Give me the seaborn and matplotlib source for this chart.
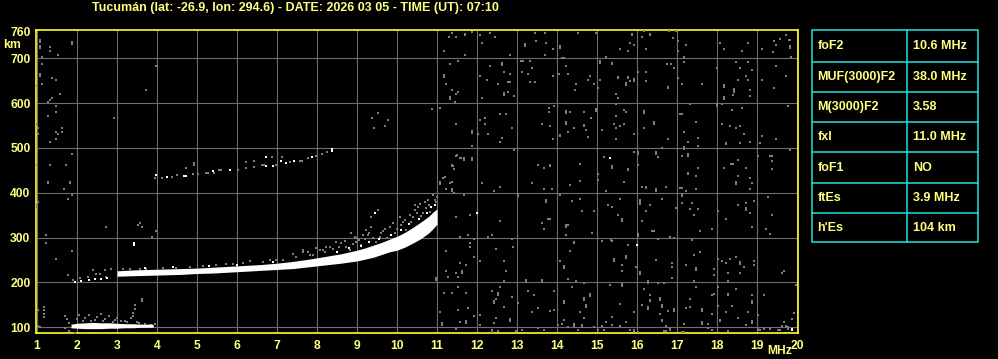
import matplotlib
matplotlib.use("Agg")
import matplotlib.pyplot as plt
from matplotlib.patches import Rectangle
from matplotlib.lines import Line2D
import pandas as pd
import seaborn as sns

# ---------------- data ----------------
TITLE = "Tucumán (lat: -26.9, lon: 294.6) - DATE: 2026 03 05 - TIME (UT): 07:10"
freq_ticks = list(range(1, 21))
height_ticks = [100, 200, 300, 400, 500, 600, 700]
top_height_label = 760
param_names = ["foF2", "MUF(3000)F2", "M(3000)F2", "fxl", "foF1", "ftEs", "h'Es"]
param_values = ["10.6 MHz", "38.0 MHz", "3.58", "11.0 MHz", "NO", "3.9 MHz", "104 km"]

# sporadic-E trace (white band): frequency (MHz), lower / upper virtual height (km)
es_freq = [1.85, 2.0, 2.2, 2.4, 2.6, 2.8, 3.0, 3.2, 3.4, 3.6, 3.8, 3.9]
es_lo = [99, 98, 97, 97, 97, 98, 98, 99, 99, 100, 100, 100]
es_hi = [107, 109, 110, 111, 110, 110, 109, 108, 108, 107, 107, 107]

# F-layer trace (white band)
f_freq = [3.0, 3.4, 3.8, 4.2, 4.6, 5.0, 5.4, 5.8, 6.2, 6.6, 7.0, 7.4, 7.8, 8.2,
          8.6, 9.0, 9.2, 9.4, 9.6, 9.8, 10.0, 10.2, 10.4, 10.6, 10.8, 10.9, 11.0]
f_lo = [214, 215, 216, 217, 218, 220, 221, 223, 225, 227, 229, 231, 235, 239,
        243, 248, 252, 256, 262, 268, 272, 279, 288, 298, 311, 320, 330]
f_hi = [226, 228, 229, 230, 231, 232, 234, 236, 238, 240, 243, 247, 252, 258,
        264, 272, 277, 283, 289, 296, 303, 312, 323, 335, 348, 357, 364]

# isolated strong (white) echoes
white_pts = [(1.95, 202), (2.1, 203), (2.3, 205), (2.45, 207), (2.6, 208), (2.75, 210),
             (3.43, 287), (3.43, 283), (9.44, 354), (12.0, 355), (15.33, 477),
             (16.0, 284), (19.88, 93), (19.88, 97), (10.45, 300), (10.7, 330),
             (8.5, 268), (8.8, 276), (9.1, 281), (9.3, 290), (9.55, 298), (9.85, 305),
             (10.1, 318), (10.3, 330), (10.55, 342), (10.75, 355), (10.95, 372),
             (10.85, 368), (3.7, 232), (4.4, 234), (5.3, 237), (6.0, 240), (6.9, 246)]

# second-hop F trace
hop2_white = [(3.98, 439), (4.25, 436), (4.67, 438), (4.72, 438), (5.4, 448), (5.82, 450),
              (6.73, 459), (6.73, 479), (6.9, 460), (7.1, 470), (7.23, 466), (7.43, 472),
              (7.88, 479), (8.38, 493), (8.38, 497)]
hop2_gray = [(3.94, 433), (4.13, 433), (4.38, 436), (4.5, 439), (4.73, 456), (4.93, 463),
             (4.93, 467), (4.9, 441), (5.03, 442), (5.22, 444), (5.27, 444), (5.55, 450),
             (5.6, 450), (5.43, 444), (6.02, 451), (6.22, 456), (6.23, 469), (6.43, 470),
             (6.43, 457), (6.62, 463), (6.67, 463), (6.88, 479), (6.98, 463), (7.13, 479),
             (7.33, 469), (7.57, 470), (7.62, 470), (7.78, 478), (7.98, 482), (8.13, 487),
             (8.25, 490)]

# weaker (grey) echoes around the traces
echo_pts = [(1.9, 205), (2.07, 209), (2.28, 213), (2.4, 227), (2.48, 220), (2.57, 220),
            (2.69, 227), (2.73, 213), (2.86, 231), (3.15, 230), (3.32, 230), (3.57, 231),
            (3.73, 229), (4.15, 232), (4.48, 233), (4.82, 235), (5.15, 236), (5.48, 238),
            (5.73, 242), (5.9, 241), (6.15, 244), (6.32, 247), (6.65, 246), (6.82, 251),
            (6.98, 250), (7.15, 251), (7.4, 264), (7.48, 257), (7.65, 268), (7.82, 261),
            (7.98, 276), (8.15, 272), (8.23, 279), (7.65, 273), (7.78, 269), (7.9, 262),
            (8.07, 273), (8.19, 269), (8.32, 280), (8.48, 291), (8.61, 287), (8.73, 280),
            (8.86, 310), (8.82, 273), (8.98, 291), (9.11, 284), (9.23, 317), (9.36, 324),
            (9.27, 306), (9.48, 291), (9.57, 302), (9.69, 284), (9.82, 324), (9.9, 332),
            (9.94, 310), (10.07, 346), (10.15, 335), (10.23, 317), (10.32, 350),
            (10.44, 361), (10.53, 368), (10.57, 376), (10.65, 354), (10.73, 365),
            (10.82, 357), (10.86, 368), (10.9, 346), (10.94, 328), (10.98, 379),
            (9.53, 361), (9.36, 346), (9.0, 300), (9.2, 298), (9.6, 310), (9.75, 300),
            (10.0, 320), (10.35, 335), (10.6, 348), (10.8, 372), (10.95, 385),
            (11.0, 390), (10.9, 394), (8.4, 275), (8.55, 280), (8.9, 285), (9.05, 295),
            (9.15, 305), (9.4, 300), (9.65, 315), (9.7, 320), (10.1, 328), (10.2, 340),
            (10.4, 345), (10.5, 355), (10.7, 380), (10.78, 385), (10.45, 372),
            (8.7, 292), (8.95, 302), (9.3, 310),
            # Es region
            (1.7, 125), (1.75, 118), (1.8, 110), (2.0, 118), (2.05, 128), (2.2, 120),
            (2.3, 127), (2.35, 115), (2.5, 122), (2.6, 130), (2.7, 118), (2.8, 125),
            (2.9, 112), (3.0, 120), (3.1, 114), (3.2, 115), (3.35, 120), (3.4, 132),
            (3.4, 126), (3.45, 140), (3.45, 150), (3.5, 112), (3.7, 108), (3.85, 106),
            (1.7, 98), (1.8, 92), (1.95, 88), (3.95, 107), (3.9, 103), (2.15, 114),
            (2.45, 116), (2.65, 114), (2.95, 116), (3.25, 112), (3.55, 110)]

# background noise, left part
noise_left = [(1.08, 736), (1.08, 740), (1.08, 723), (1.08, 727), (1.33, 726), (1.33, 717),
              (1.53, 708), (1.88, 732), (1.88, 736), (1.13, 702), (1.13, 687), (1.08, 664),
              (1.08, 660), (1.38, 656), (1.48, 652), (1.13, 643), (1.0, 639), (1.58, 621),
              (1.38, 612), (1.33, 607), (1.28, 603), (1.48, 594), (1.48, 581), (1.28, 572),
              (1.0, 554), (1.03, 545), (1.03, 532), (1.63, 545), (1.63, 536), (1.48, 536),
              (1.53, 532), (1.48, 519), (1.33, 514), (1.88, 487), (1.33, 461), (1.73, 461),
              (1.0, 461), (1.28, 424), (1.83, 424), (3.98, 683), (3.73, 630), (2.93, 567),
              (1.28, 421), (1.83, 421), (1.68, 408), (1.88, 395), (1.78, 386), (1.03, 380),
              (1.0, 373), (1.0, 368), (1.23, 306), (1.23, 288), (1.48, 253), (1.88, 270),
              (1.78, 217), (2.73, 324), (3.53, 328), (3.58, 333), (3.63, 324), (3.98, 315),
              (3.88, 301), (1.03, 139), (1.18, 122), (1.18, 130), (1.18, 138), (1.18, 146),
              (1.03, 104), (1.08, 100), (3.63, 164), (3.63, 159), (9.38, 567), (9.53, 578),
              (9.7, 549), (9.78, 562), (9.43, 545)]

# background noise, upper right part (11-20 MHz, 430-765 km)
noise_upper = [(11.38, 756), (11.3, 748), (11.48, 748), (11.69, 751), (11.69, 755), (11.88, 758),
               (12.08, 753), (12.32, 757), (12.44, 748), (12.13, 734), (11.18, 717), (11.69, 708),
               (12.83, 708), (13.19, 727), (13.19, 731), (13.44, 756), (13.69, 756), (13.48, 739),
               (13.73, 734), (13.9, 721), (14.08, 723), (14.08, 727), (13.69, 708), (14.53, 756),
               (14.98, 756), (11.33, 688), (11.53, 693), (11.18, 659), (11.18, 663), (11.23, 643),
               (11.38, 630), (11.53, 625), (11.48, 621), (11.32, 610), (11.32, 614), (11.44, 603),
               (12.08, 661), (12.25, 652), (12.33, 683), (12.63, 686), (12.63, 690), (12.68, 670),
               (12.83, 665), (12.82, 647), (12.78, 647), (12.53, 643), (12.13, 612), (12.68, 619),
               (12.68, 623), (12.78, 625), (12.93, 616), (13.11, 693), (13.16, 693), (13.32, 693),
               (13.38, 679), (13.13, 670), (13.28, 665), (13.33, 647), (13.45, 647), (13.9, 661),
               (14.05, 665), (14.23, 683), (14.28, 665), (14.48, 643), (14.44, 630), (14.83, 661),
               (14.78, 652), (14.93, 643), (15.03, 634), (15.08, 652), (15.08, 690), (15.08, 694),
               (15.38, 687), (14.13, 701), (14.18, 701), (15.23, 703), (10.88, 588), (11.08, 590),
               (11.48, 554), (11.88, 534), (11.88, 538), (12.03, 532), (12.08, 563), (12.19, 567),
               (12.19, 554), (12.57, 575), (12.73, 576), (12.88, 545), (12.28, 532), (12.63, 523),
               (12.58, 514), (13.63, 554), (13.8, 590), (13.8, 581), (13.83, 550), (13.93, 594),
               (13.9, 519), (14.23, 578), (14.23, 582), (14.33, 581), (14.23, 553), (14.23, 557),
               (14.43, 545), (14.08, 526), (14.08, 530), (14.28, 536), (14.68, 581), (14.85, 567),
               (14.98, 582), (14.98, 586), (14.68, 548), (14.68, 552), (14.73, 541), (14.78, 524),
               (15.13, 541), (11.88, 505), (11.48, 483), (11.58, 478), (11.68, 473), (11.68, 477),
               (11.88, 473), (11.88, 477), (11.38, 459), (11.38, 463), (11.43, 452), (11.15, 434),
               (12.93, 496), (13.53, 461), (13.67, 455), (13.83, 459), (13.83, 463), (14.58, 465),
               (15.18, 479), (15.38, 455), (15.38, 459), (15.03, 443), (11.5, 484), (11.6, 477),
               (11.4, 460), (11.2, 435), (11.38, 425),
               (15.88, 751), (15.88, 755), (16.18, 761), (16.33, 751), (16.33, 755), (16.13, 748),
               (15.83, 735), (15.93, 729), (15.58, 720), (15.78, 717), (16.23, 721), (16.8, 761),
               (16.98, 761), (16.9, 745), (17.03, 738), (17.23, 730), (17.02, 716), (17.18, 702),
               (18.08, 735), (18.18, 721), (18.78, 735), (18.63, 717), (19.13, 721), (19.43, 739),
               (19.48, 730), (19.58, 744), (19.73, 753), (19.8, 741), (19.83, 741), (19.83, 723),
               (19.83, 727), (19.4, 713), (19.85, 702), (15.38, 689), (15.53, 655), (15.53, 659),
               (15.78, 655), (15.78, 659), (15.83, 649), (15.93, 650), (15.93, 654), (15.73, 641),
               (15.73, 645), (15.48, 621), (15.53, 612), (16.03, 670), (16.23, 670), (16.23, 649),
               (16.75, 687), (16.85, 687), (16.93, 679), (16.78, 633), (16.78, 637), (17.03, 656),
               (17.13, 643), (17.18, 692), (17.63, 643), (18.0, 679), (18.48, 692), (18.58, 679),
               (18.78, 692), (18.88, 674), (18.73, 661), (18.53, 652), (18.78, 652), (18.18, 637),
               (18.18, 641), (18.43, 628), (18.43, 632), (18.43, 624), (18.4, 619), (18.83, 630),
               (18.83, 616), (18.18, 610), (18.18, 614), (19.13, 652), (19.48, 683), (19.73, 661),
               (19.43, 634), (15.48, 599), (15.68, 585), (15.73, 581), (15.48, 572), (16.18, 579),
               (16.18, 583), (15.43, 554), (15.58, 550), (15.68, 554), (15.48, 545), (15.93, 532),
               (16.43, 554), (16.43, 558), (16.18, 545), (15.48, 519), (16.78, 519), (17.33, 599),
               (17.07, 576), (17.12, 576), (17.48, 559), (17.18, 536), (17.53, 523), (17.28, 514),
               (17.53, 505), (18.0, 593), (18.0, 597), (18.13, 599), (18.38, 585), (18.63, 590),
               (18.13, 554), (18.33, 550), (18.48, 545), (18.58, 550), (18.68, 532), (18.23, 508),
               (18.23, 512), (18.58, 510), (18.83, 514), (19.13, 527), (19.08, 510), (19.48, 519),
               (19.78, 594), (15.93, 492), (16.03, 486), (16.03, 490), (16.48, 486), (16.48, 490),
               (16.63, 501), (16.53, 479), (16.03, 461), (15.78, 450), (15.78, 454), (15.38, 455),
               (15.38, 459), (17.18, 498), (17.18, 502), (17.28, 483), (17.28, 487), (17.13, 483),
               (17.53, 456), (17.48, 438), (17.28, 441), (17.28, 445), (18.18, 456), (18.35, 465),
               (18.4, 465), (18.53, 474), (18.73, 456), (18.53, 438), (18.83, 434), (19.03, 483),
               (19.32, 483), (19.37, 483), (19.38, 470), (19.38, 452), (19.83, 496)]

# background noise, lower right part (11-20 MHz, 87-430 km)
noise_lower = [(11.08, 420), (11.08, 424), (11.33, 421), (11.23, 408), (11.38, 405), (11.38, 409),
               (11.43, 399), (11.68, 395), (12.13, 421), (12.43, 404), (12.58, 413), (13.03, 393),
               (13.03, 397), (13.38, 421), (13.68, 408), (13.88, 408), (14.08, 395), (13.73, 379),
               (13.73, 383), (14.33, 417), (14.58, 426), (14.58, 386), (14.38, 381), (14.63, 359),
               (14.93, 359), (15.03, 429), (15.23, 404), (15.28, 373), (15.38, 368), (11.48, 346),
               (11.83, 350), (12.58, 337), (13.78, 341), (13.83, 341), (13.63, 333), (13.68, 319),
               (14.23, 324), (14.23, 328), (14.28, 328), (14.23, 306), (14.88, 310), (11.58, 301),
               (11.78, 306), (11.93, 297), (12.28, 301), (12.38, 306), (12.88, 297), (12.9, 279),
               (12.48, 275), (11.83, 288), (11.83, 279), (11.23, 270), (11.93, 257), (12.08, 248),
               (11.73, 239), (11.58, 243), (11.48, 221), (11.63, 221), (11.63, 225), (11.53, 212),
               (11.28, 212), (11.23, 226), (10.98, 205), (10.98, 209), (12.68, 248), (12.73, 226),
               (12.68, 204), (12.58, 190), (13.23, 202), (13.23, 206), (13.63, 202), (13.63, 206),
               (14.43, 287), (14.43, 291), (14.33, 270), (14.08, 248), (14.18, 233), (14.18, 237),
               (14.28, 208), (14.48, 204), (14.68, 198), (15.13, 293), (15.38, 293), (15.43, 253),
               (15.33, 195), (11.18, 177), (11.38, 177), (11.53, 190), (11.73, 177), (12.38, 181),
               (12.53, 173), (12.53, 177), (12.48, 164), (12.43, 155), (12.43, 159), (12.88, 168),
               (12.68, 146), (13.03, 155), (13.28, 181), (13.43, 173), (13.53, 143), (13.38, 134),
               (13.83, 137), (13.93, 139), (13.93, 181), (14.18, 155), (14.18, 159), (14.38, 190),
               (14.68, 161), (14.68, 165), (14.83, 170), (14.83, 174), (14.73, 146), (14.73, 150),
               (14.58, 134), (14.68, 121), (14.18, 116), (14.13, 107), (11.08, 134), (11.53, 139),
               (11.78, 143), (11.93, 125), (12.08, 127), (11.58, 112), (11.73, 110), (11.73, 114),
               (11.13, 106), (11.13, 110), (11.48, 97), (12.08, 106), (12.48, 121), (12.43, 109),
               (12.83, 115), (12.83, 119), (12.38, 93), (12.38, 89), (12.53, 92), (13.13, 94),
               (12.98, 92), (13.53, 99), (13.68, 93), (14.03, 106), (14.28, 101), (14.43, 103),
               (14.43, 107), (14.63, 101), (14.63, 105), (14.53, 94), (14.93, 101), (15.03, 94),
               (15.13, 103), (15.23, 112), (15.38, 106), (15.38, 122), (15.18, 93),
               (15.68, 425), (16.13, 413), (16.23, 410), (16.23, 414), (16.48, 405), (16.48, 409),
               (16.73, 413), (17.08, 410), (17.13, 410), (17.23, 404), (17.48, 408), (18.48, 419),
               (18.48, 423), (18.88, 421), (18.83, 408), (15.58, 386), (16.08, 379), (16.08, 383),
               (16.08, 375), (16.33, 373), (16.23, 359), (16.63, 386), (17.13, 393), (17.13, 397),
               (17.13, 377), (17.38, 377), (17.33, 364), (17.53, 364), (17.43, 350), (16.98, 367),
               (18.03, 359), (18.23, 341), (18.53, 373), (18.73, 377), (18.73, 361), (18.73, 365),
               (18.83, 355), (18.93, 381), (19.28, 390), (19.38, 350), (19.23, 319), (19.33, 307),
               (18.88, 323), (17.88, 319), (17.58, 315), (15.53, 350), (15.63, 338), (15.63, 342),
               (16.13, 337), (16.37, 315), (16.42, 315), (16.03, 303), (16.03, 307), (16.83, 301),
               (16.53, 296), (16.93, 299), (15.35, 295), (15.78, 284), (15.43, 253), (15.73, 254),
               (15.73, 258), (15.63, 238), (15.43, 247), (15.63, 226), (15.98, 235), (16.08, 219),
               (16.08, 223), (16.48, 249), (16.88, 244), (16.88, 234), (16.88, 209), (17.38, 295),
               (17.43, 262), (17.58, 267), (17.23, 240), (17.48, 228), (17.48, 232), (17.43, 204),
               (17.93, 230), (17.93, 217), (18.03, 252), (18.13, 247), (18.23, 243), (18.33, 252),
               (18.48, 257), (18.58, 242), (18.58, 246), (18.68, 235), (18.93, 247), (18.93, 238),
               (18.28, 221), (18.58, 221), (18.28, 204), (18.48, 186), (19.68, 226), (19.63, 221),
               (19.98, 195), (19.18, 173), (15.63, 192), (15.63, 196), (16.28, 199), (16.28, 203),
               (16.53, 199), (16.68, 199), (16.18, 186), (16.33, 171), (16.58, 162), (16.58, 166),
               (16.33, 158), (16.33, 162), (15.58, 152), (16.13, 149), (16.28, 141), (16.28, 145),
               (16.63, 146), (16.63, 150), (16.78, 137), (16.93, 137), (16.93, 141), (16.58, 129),
               (16.63, 113), (16.63, 117), (15.93, 134), (15.73, 112), (15.58, 103), (15.83, 94),
               (15.93, 91), (15.93, 95), (16.03, 89), (16.68, 92), (16.73, 92), (16.83, 94),
               (16.83, 98), (16.73, 103), (17.13, 89), (17.18, 89), (17.18, 108), (17.33, 164),
               (17.33, 145), (17.23, 144), (17.48, 190), (17.63, 137), (17.63, 141), (17.88, 129),
               (17.63, 107), (17.63, 111), (17.78, 107), (17.88, 94), (17.78, 99), (17.88, 171),
               (17.93, 175), (18.03, 190), (18.03, 147), (18.23, 134), (18.28, 171), (18.28, 175),
               (18.38, 147), (18.08, 113), (18.08, 117), (18.28, 91), (18.53, 121), (18.78, 134),
               (18.88, 155), (18.88, 159), (18.88, 173), (18.73, 106), (19.03, 128), (18.88, 110),
               (18.88, 114), (19.03, 93), (19.08, 93), (19.03, 97), (19.18, 96), (19.33, 97),
               (19.53, 93), (19.58, 93), (19.63, 103), (19.68, 112), (19.73, 103), (19.78, 96),
               (19.78, 100), (19.93, 132), (19.88, 118)]

# ---------------- style ----------------
TXT = "#ffff80"
FRAME = "#ffff30"
GRID = "#6e6e6e"
DOT = "#7e7e7e"
CYAN = "#22e0e0"

sns.set_theme(style="dark", rc={"axes.facecolor": "black", "figure.facecolor": "black"})
plt.rcParams["font.family"] = ["Liberation Sans", "DejaVu Sans"]
plt.rcParams["font.weight"] = "bold"

W, H = 998, 359
fig = plt.figure(figsize=(W / 100, H / 100), dpi=100, facecolor="black")
ax = fig.add_axes([36 / W, 26 / H, 762 / W, 303.5 / H])
ax.set_facecolor("black")
ax.set_xlim(0.975, 20.025)
ax.set_ylim(87.3, 764.2)


def frame(pts):
    return pd.DataFrame(pts, columns=["freq", "km"])


# noise first
noise = frame(noise_left + noise_upper + noise_lower)
sns.scatterplot(data=noise, x="freq", y="km", color=DOT, marker="s", s=3.4,
                linewidth=0, ax=ax, legend=False, zorder=3)
sns.scatterplot(data=frame(echo_pts + hop2_gray), x="freq", y="km", color=DOT, marker="s",
                s=4.0, linewidth=0, ax=ax, legend=False, zorder=3)

# main traces
ax.fill_between(es_freq, es_lo, es_hi, color="white", linewidth=0, zorder=4)
ax.fill_between(f_freq, f_lo, f_hi, color="white", linewidth=0, zorder=4)
sns.scatterplot(data=frame(white_pts + hop2_white), x="freq", y="km", color="white",
                marker="s", s=4.0, linewidth=0, ax=ax, legend=False, zorder=5)

# grid, ticks, frame
ax.set_xticks(freq_ticks)
ax.set_xticklabels([str(v) for v in freq_ticks])
ax.set_yticks(height_ticks)
ax.set_yticklabels([str(v) for v in height_ticks])
ax.set_yticks([top_height_label], minor=True)
ax.set_yticklabels([str(top_height_label)], minor=True)
ax.grid(True, which="major", color=GRID, linewidth=0.8)
ax.grid(False, which="minor")
ax.set_axisbelow(True)
ax.tick_params(axis="both", which="both", length=0, colors=TXT, labelsize=8.7)
ax.tick_params(axis="x", pad=5)
ax.tick_params(axis="y", pad=4)
ax.set_xlabel("")
ax.set_ylabel("")
for s in ax.spines.values():
    s.set_visible(True)
    s.set_color(FRAME)
    s.set_linewidth(1.2)


def fx(x):
    return x / W


def fy(y):
    return 1 - y / H


fig.text(fx(295), fy(7.5), TITLE, color=TXT, fontsize=9, ha="center", va="center")
fig.text(fx(21), fy(45), "km", color=TXT, fontsize=8.7, ha="right", va="center")
fig.text(fx(780), fy(351.5), "MHz", color=TXT, fontsize=8.7, ha="center", va="center")

# parameter table
x0, x1, xm = 812.3, 977.7, 907.3
rows_y = [30, 61.7, 91.7, 121.7, 151.7, 182.7, 212.7, 242.3]
fig.add_artist(Rectangle((fx(x0), fy(rows_y[-1])), fx(x1) - fx(x0), fy(rows_y[0]) - fy(rows_y[-1]),
                         transform=fig.transFigure, fill=False, edgecolor=CYAN, linewidth=1.1))
fig.add_artist(Line2D([fx(xm), fx(xm)], [fy(rows_y[0]), fy(rows_y[-1])],
                      transform=fig.transFigure, color=CYAN, linewidth=1.1))
for yy in rows_y[1:-1]:
    fig.add_artist(Line2D([fx(x0), fx(x1)], [fy(yy), fy(yy)],
                          transform=fig.transFigure, color=CYAN, linewidth=1.1))
for i, (name, val) in enumerate(zip(param_names, param_values)):
    yc = (rows_y[i] + rows_y[i + 1]) / 2 + 0.5
    fig.text(fx(817.3), fy(yc), name, color=TXT, fontsize=9, ha="left", va="center")
    fig.text(fx(912.7), fy(yc), val, color=TXT, fontsize=9, ha="left", va="center")

fig.savefig("out.png", dpi=100, facecolor="black")
